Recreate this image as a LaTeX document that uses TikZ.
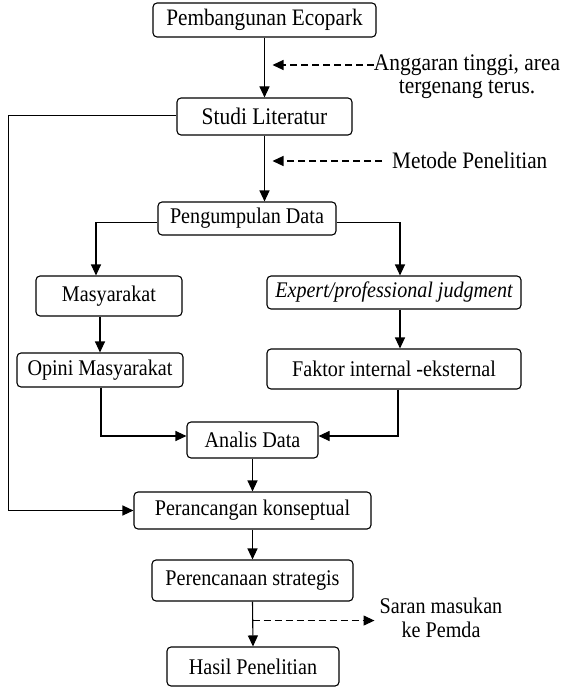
\documentclass[tikz,border=0pt]{standalone}
\usepackage{fontspec}
\setmainfont[FakeStretch=0.9]{Liberation Serif}
\usetikzlibrary{arrows.meta}
\newcommand{\fsz}[1]{\fontsize{#1}{22.5}\selectfont}
\begin{document}
\begin{tikzpicture}[x=1pt,y=-1pt,
  box/.style={draw, rounded corners=4pt, line width=1.1pt, inner sep=0pt, align=center},
  arr/.style={line width=1.1pt, -{Triangle[length=11pt,width=10pt]}},
  dasharr/.style={arr, dash pattern=on 7pt off 4pt},
  lbl/.style={inner sep=0pt, align=center},
  every node/.style={font=\fontsize{22.4}{22.5}\selectfont}]
\useasboundingbox (0,0) rectangle (563,687);
\node[box, minimum width=223pt, minimum height=34pt, font=\fsz{23.6}] (eco) at (264.5,20) {Pembangunan Ecopark};
\node[box, minimum width=175pt, minimum height=37pt, font=\fsz{23.8}] (studi) at (264.5,116.5) {Studi Literatur};
\node[box, minimum width=178pt, minimum height=33pt] (peng) at (247,218.5) {Pengumpulan Data};
\node[box, minimum width=146pt, minimum height=40pt] (masy) at (109,296) {Masyarakat};
\node[box, minimum width=254pt, minimum height=33pt, font=\fsz{22.3}\itshape] (exp) at (394,292.5) {Expert/professional judgment};
\node[box, minimum width=166pt, minimum height=34pt] (opini) at (100,370) {Opini Masyarakat};
\node[box, minimum width=254pt, minimum height=40pt] (faktor) at (394,369) {Faktor internal -eksternal};
\node[box, minimum width=131pt, minimum height=36pt] (analis) at (252.5,440) {Analis Data};
\node[box, minimum width=237pt, minimum height=37pt] (peranc) at (252.5,510.5) {Perancangan konseptual};
\node[box, minimum width=201pt, minimum height=41pt] (perenc) at (252.5,580.5) {Perencanaan strategis};
\node[box, minimum width=172pt, minimum height=39pt] (hasil) at (253,666.5) {Hasil Penelitian};

\node[lbl, anchor=north, font=\fsz{23.8}] (t1) at (467,55) {Anggaran tinggi, area\\tergenang terus.};
\node[lbl, anchor=west, font=\fsz{23.6}] (t2) at (392,160) {Metode Penelitian};
\node[lbl, font=\fontsize{22.4}{23.5}\selectfont] (t3) at (441,618) {Saran masukan\\ke Pemda};

\coordinate (a1) at (374,65);
\coordinate (a2) at (382,161);
\coordinate (a3) at ([yshift=-19pt]perenc.south);

\draw[arr] (eco.south) -- (studi.north);
\draw[arr] (studi.south) -- (studi.south |- peng.north);
\draw[dasharr] (a1) -- ([xshift=8pt]a1 -| studi.south);
\draw[dasharr] (a2) -- ([xshift=8pt]a2 -| studi.south);
\draw[arr] ([yshift=-4pt]peng.west) -| ([xshift=-13pt]masy.north);
\draw[arr] ([yshift=-4pt]peng.east) -| ([xshift=6pt]exp.north);
\draw[arr] (opini.north |- masy.south) -- (opini.north);
\draw[arr] ([xshift=6pt]exp.south) -- ([xshift=6pt]faktor.north);
\draw[arr] ([xshift=1pt]opini.south) |- ([yshift=4pt]analis.west);
\draw[arr] ([xshift=4pt]faktor.south) |- ([yshift=4pt]analis.east);
\draw[arr] ([yshift=1pt]studi.west) -- ++(-168,0) |- (peranc.west);
\draw[arr] (analis.south) -- (peranc.north);
\draw[arr] (peranc.south) -- (perenc.north);
\draw[arr] (perenc.south) -- (hasil.north);
\draw[dasharr] (a3) -- ([xshift=-5pt]a3 -| t3.west);
\end{tikzpicture}
\end{document}
